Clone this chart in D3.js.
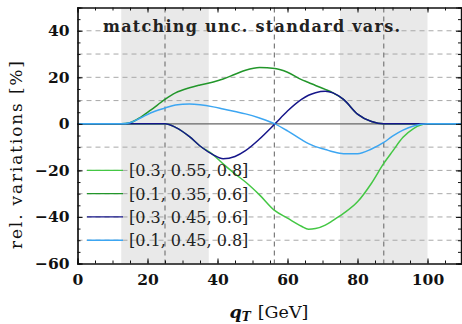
<!DOCTYPE html>
<html>
<head>
<meta charset="utf-8">
<script src="https://cdn.jsdelivr.net/npm/d3@7"></script>
<style>
  body { margin: 0; background: #fff; }
  svg { display: block; font-family: "DejaVu Serif", serif; }
</style>
</head>
<body>
<div id="graph"></div>
<script>
// qT sample points shared by all curves
var qT = [0, 12.5, 15, 18, 21, 25, 28, 32, 35, 38.8, 41.6, 45, 48, 52, 56.4, 60, 64, 66, 68, 70.8, 73, 76, 80, 84, 87.5, 90, 93, 96, 100, 110]

var lightGreen = [0, 0, 0, 0, 0, 0, -1.5, -5.5, -9.5, -13.3, -17.2, -21.5, -25, -30.5, -37.3, -40.5, -44, -45.3, -45, -43.5, -41.5, -38.5, -33.5, -25.5, -17, -11.8, -5.8, -2, 0, 0]
var darkGreen  = [0, 0, 0.5, 2.8, 6, 10.5, 13.3, 15.5, 16.7, 18, 19.3, 21.3, 23, 24.2, 23.8, 22.2, 19, 17.8, 16.5, 14.8, 13.3, 10.5, 4.2, 1, 0, 0, 0, 0, 0, 0]
var navy       = [0, 0, 0, 0, 0, 0, -1.5, -5.5, -9.5, -13.3, -15, -14, -11.5, -6.5, 0, 5.5, 10.5, 12.3, 13.4, 14, 13.3, 10.5, 4.2, 1, 0, 0, 0, 0, 0, 0]
var lightBlue  = [0, 0, 0.5, 2.5, 4.8, 6.8, 8.1, 8.5, 8.2, 7.3, 6.4, 5.3, 4.3, 2.5, 0, -3, -6.8, -8.5, -9.8, -11, -12, -12.8, -12.8, -10.8, -8, -5.3, -2.7, -0.9, 0, 0]

var seriesNames = ['[0.3, 0.55, 0.8]', '[0.1, 0.35, 0.6]', '[0.3, 0.45, 0.6]', '[0.1, 0.45, 0.8]']
var seriesColors = ['#44c744', '#22962a', '#16168a', '#3ca6f2']
var seriesValues = [lightGreen, darkGreen, navy, lightBlue]
var legendY = [-20, -30, -40, -50]

var bands = [[12.5, 37.5], [75, 100]]
var vLines = [25, 56.25, 87.5]
var xTicks = [0, 20, 40, 60, 80, 100]
var yTicks = [-60, -40, -20, 0, 20, 40]

var width = 462, height = 324

var x = d3.scaleLinear().domain([0, 110]).range([77.5, 462.5])
var y = d3.scaleLinear().domain([-60, 50]).range([263.5, 7.5])

var svg = d3.select('#graph').append('svg')
    .attr('width', width)
    .attr('height', height)

// shaded bands
svg.selectAll('.band').data(bands).enter().append('rect')
    .attr('x', d => x(d[0]))
    .attr('width', d => x(d[1]) - x(d[0]))
    .attr('y', y(50))
    .attr('height', y(-60) - y(50))
    .attr('fill', '#e9e9e9')

// horizontal grid
var gridVals = d3.range(-50, 50, 10).filter(d => d != 0)
svg.selectAll('.hgrid').data(gridVals).enter().append('line')
    .attr('x1', x(0)).attr('x2', x(110))
    .attr('y1', d => y(d)).attr('y2', d => y(d))
    .attr('stroke', '#a8a8a8')
    .attr('stroke-width', 1)
    .attr('stroke-dasharray', '5,4')

// vertical dashed lines
svg.selectAll('.vline').data(vLines).enter().append('line')
    .attr('x1', d => x(d)).attr('x2', d => x(d))
    .attr('y1', y(50)).attr('y2', y(-60))
    .attr('stroke', '#7a7a7a')
    .attr('stroke-width', 1.2)
    .attr('stroke-dasharray', '5,4')

// zero line
svg.append('line')
    .attr('x1', x(0)).attr('x2', x(110))
    .attr('y1', y(0)).attr('y2', y(0))
    .attr('stroke', '#666')
    .attr('stroke-width', 1.2)

// title
svg.append('text')
    .attr('x', 103).attr('y', 32)
    .attr('font-weight', 'bold')
    .attr('font-size', 16)
    .attr('fill', '#222')
    .attr('textLength', 297)
    .attr('lengthAdjust', 'spacing')
    .text('matching unc. standard vars.')

// curves
var line = d3.line()
    .x((d, i) => x(qT[i]))
    .y(d => y(d))
    .curve(d3.curveMonotoneX)

svg.selectAll('.curve').data(seriesValues).enter().append('path')
    .attr('d', line)
    .attr('fill', 'none')
    .attr('stroke', (d, i) => seriesColors[i])
    .attr('stroke-width', 1.5)

// legend
var legend = svg.selectAll('.legend').data(seriesNames).enter().append('g')
    .attr('transform', (d, i) => 'translate(0,' + y(legendY[i]) + ')')

legend.append('line')
    .attr('x1', 87).attr('x2', 123)
    .attr('stroke', (d, i) => seriesColors[i])
    .attr('stroke-width', 1.3)

legend.append('text')
    .attr('x', 129).attr('y', 6)
    .attr('font-size', 16)
    .attr('fill', '#222')
    .text(d => d)

// axes with inward ticks
var minorX = d3.range(0, 111, 5), minorY = d3.range(-60, 51, 5)

svg.append('g').attr('transform', 'translate(0,' + y(-60) + ')')
    .call(d3.axisBottom(x).tickValues(minorX).tickSize(-3).tickFormat(''))
svg.append('g').attr('transform', 'translate(0,' + y(-60) + ')')
    .call(d3.axisBottom(x).tickValues(xTicks).tickSize(-5).tickPadding(10).tickFormat(d3.format('d')))
    .attr('class', 'xax')
svg.append('g').attr('transform', 'translate(0,' + y(50) + ')')
    .call(d3.axisTop(x).tickValues(minorX).tickSize(-3).tickFormat(''))
svg.append('g').attr('transform', 'translate(0,' + y(50) + ')')
    .call(d3.axisTop(x).tickValues(xTicks).tickSize(-5).tickFormat(''))

svg.append('g').attr('transform', 'translate(' + x(0) + ',0)')
    .call(d3.axisLeft(y).tickValues(minorY).tickSize(-3).tickFormat(''))
svg.append('g').attr('transform', 'translate(' + x(0) + ',0)')
    .call(d3.axisLeft(y).tickValues(yTicks).tickSize(-5).tickPadding(8).tickFormat(d => d < 0 ? '\u2212' + (-d) : d))
    .attr('class', 'yax')
svg.append('g').attr('transform', 'translate(461,0)')
    .call(d3.axisRight(y).tickValues(minorY).tickSize(-3).tickFormat(''))
svg.append('g').attr('transform', 'translate(461,0)')
    .call(d3.axisRight(y).tickValues(yTicks).tickSize(-5).tickFormat(''))

svg.selectAll('.domain').attr('stroke', '#111').attr('stroke-width', 1.2)
svg.selectAll('.tick line').attr('stroke', '#111')
svg.selectAll('.xax text, .yax text')
    .attr('font-family', 'DejaVu Serif')
    .attr('font-weight', 'bold')
    .attr('font-size', 15.5)
    .attr('fill', '#111')
svg.selectAll('.xax text').attr('dy', '0.71em')

// axis titles
var xt = svg.append('text')
    .attr('x', 269).attr('y', 318)
    .attr('text-anchor', 'middle')
    .attr('font-size', 17.5)
    .attr('fill', '#111')
xt.append('tspan').attr('font-style', 'italic').attr('font-weight', 'bold').text('q')
xt.append('tspan').attr('font-style', 'italic').attr('font-weight', 'bold').attr('font-size', 12).attr('dy', 3).text('T')
xt.append('tspan').attr('dy', -3).attr('dx', 7).text('[GeV]')

svg.append('text')
    .attr('transform', 'translate(22,155) rotate(-90)')
    .attr('text-anchor', 'middle')
    .attr('font-size', 17)
    .attr('fill', '#111')
    .attr('textLength', 188)
    .attr('lengthAdjust', 'spacing')
    .text('rel. variations [%]')
</script>
</body>
</html>
